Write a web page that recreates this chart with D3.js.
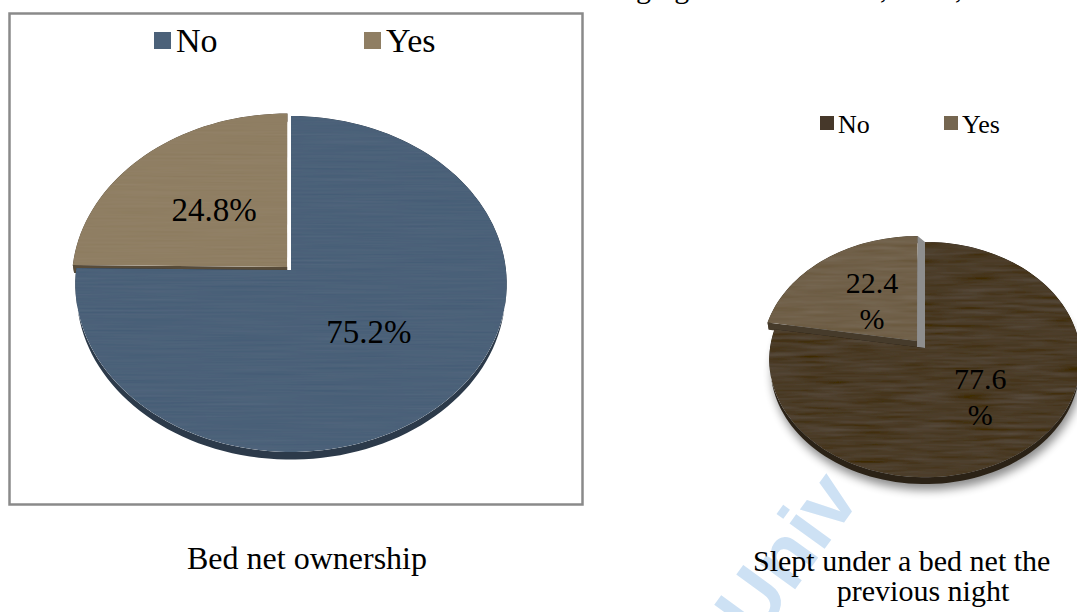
<!DOCTYPE html>
<html>
<head>
<meta charset="utf-8">
<script src="https://cdn.jsdelivr.net/npm/d3@7/dist/d3.min.js"></script>
<style>
  html, body { margin: 0; padding: 0; background: #ffffff; }
  svg { display: block; }
  text { font-family: "Liberation Serif", "Times New Roman", serif; fill: #000; }
</style>
</head>
<body>
<svg id="chart" width="1077" height="612"></svg>
<script>
// ---------------- data ----------------
const categories = ["No", "Yes"];
const ownershipValues = [75.2, 24.8];
const sleptValues = [77.6, 22.4];
const ownershipLabels = ["75.2%", "24.8%"];
const sleptLabels = [["77.6", "%"], ["22.4", "%"]];
const captionLeft = ["Bed net ownership"];
const captionRight = ["Slept under a bed net the", "previous night"];

// ---------------- styles ----------------
const leftTop = ["#4b6179", "#8f7e63"];
const leftSide = ["#2c3a4a", "#574b39"];
const rightTop = ["#4b3c28", "#706049"];
const rightSide = ["#2b2216", "#463b2b"];
const leftLegendColors = ["#4b6179", "#8f7e63"];
const rightLegendColors = ["#46382a", "#756650"];

const svg = d3.select("#chart");
const defs = svg.append("defs");

// texture filter (brushed look)
function texFilter(id, seed, amp, freq) {
  const f = defs.append("filter").attr("id", id)
    .attr("x", "0%").attr("y", "0%").attr("width", "100%").attr("height", "100%");
  f.append("feTurbulence").attr("type", "fractalNoise")
    .attr("baseFrequency", freq).attr("numOctaves", 2).attr("seed", seed).attr("result", "n");
  f.append("feColorMatrix").attr("in", "n").attr("type", "matrix")
    .attr("values", "0.33 0.33 0.33 0 0  0.33 0.33 0.33 0 0  0.33 0.33 0.33 0 0  0 0 0 0 1")
    .attr("result", "g");
  f.append("feComposite").attr("in", "SourceGraphic").attr("in2", "g").attr("operator", "arithmetic")
    .attr("k1", 0).attr("k2", 1).attr("k3", amp).attr("k4", -amp / 2).attr("result", "c");
  f.append("feComposite").attr("in", "c").attr("in2", "SourceGraphic").attr("operator", "in");
}
texFilter("texL", 4, 0.05, "0.01 0.5");
texFilter("texR", 7, 0.10, "0.02 0.25");

const blur = defs.append("filter").attr("id", "shadow")
  .attr("x", "-20%").attr("y", "-20%").attr("width", "140%").attr("height", "140%");
blur.append("feGaussianBlur").attr("stdDeviation", 5);

// ---------------- cut-off text at the top ----------------
svg.append("text").attr("x", 636).attr("y", -2).style("font-size", "30px").text("ging");
svg.append("text").attr("x", 820).attr("y", -2).style("font-size", "30px").text("2013, 2014,");

// ---------------- left frame ----------------
svg.append("rect").attr("x", 9.5).attr("y", 13.5).attr("width", 573).attr("height", 491)
  .attr("fill", "none").attr("stroke", "#8a8a8a").attr("stroke-width", 2.5);

// ---------------- watermark ----------------
svg.append("text").attr("transform", "translate(757,642) rotate(-54)")
  .style("font-family", "'Liberation Sans', Arial, sans-serif").style("font-weight", "bold")
  .style("font-size", "82px").style("fill", "#cde1f4").text("Univ");

// ---------------- 3D pie helper ----------------
function makeProj(cfg) {
  const sa = Math.sin(cfg.alpha), ca = Math.cos(cfg.alpha);
  return function (theta, r, depth, ex, ez) {
    const X = r * Math.sin(theta) + ex;
    const Z = -r * Math.cos(theta) + ez;
    const Y = -depth;
    const den = 1 - cfg.p * (Y * sa + Z * ca);
    return [cfg.cx + cfg.k * X / den, cfg.cy + cfg.k * (Z * sa - Y * ca) / den];
  };
}

const line = d3.line();

function drawPie(g, values, cfg, tops, sides, labels, labelFont, filterId) {
  const proj = makeProj(cfg);
  const arcs = d3.pie().sort(null).startAngle(0).endAngle(2 * Math.PI)(values);
  const N = 160;
  function rim(a0, a1, depth, ex, ez) {
    const n = Math.max(2, Math.ceil(N * (a1 - a0) / (2 * Math.PI)));
    return d3.range(n + 1).map(i => proj(a0 + (a1 - a0) * i / n, 1, depth, ex, ez));
  }
  arcs.forEach((a, i) => {
    const mid = (a.startAngle + a.endAngle) / 2;
    const e = cfg.explode[i];
    a.ex = e * Math.sin(mid);
    a.ez = -e * Math.cos(mid);
    a.mid = mid;
    a.idx = i;
  });

  if (cfg.shadow) {
    const pts = rim(0, 2 * Math.PI, cfg.h, 0, 0);
    g.append("path").attr("d", line(pts) + "Z")
      .attr("transform", "translate(2,6)")
      .attr("fill", "#000").attr("opacity", 0.45).attr("filter", "url(#shadow)");
  }

  const order = arcs.slice().sort((a, b) => cfg.explode[b.idx] - cfg.explode[a.idx]);
  order.forEach(a => {
    const i = a.idx, ex = a.ex, ez = a.ez, h = cfg.h;
    const sg = g.append("g");
    const topRim = rim(a.startAngle, a.endAngle, 0, ex, ez);
    const botRim = rim(a.startAngle, a.endAngle, h, ex, ez).reverse();
    sg.append("path").attr("d", line(topRim.concat(botRim)) + "Z").attr("fill", sides[i]);
    [a.startAngle, a.endAngle].forEach(t => {
      const q = [proj(0, 0, 0, ex, ez), proj(t, 1, 0, ex, ez), proj(t, 1, h, ex, ez), proj(0, 0, h, ex, ez)];
      sg.append("path").attr("d", line(q) + "Z").attr("fill", sides[i]);
    });
    const topPts = [proj(0, 0, 0, ex, ez)].concat(topRim);
    sg.append("path").attr("d", line(topPts) + "Z").attr("fill", tops[i])
      .attr("filter", "url(#" + filterId + ")");

    if (cfg.gapFace && cfg.explode[i] > 0) {
      const q = [proj(2 * Math.PI, 1, 0, ex, ez), proj(0, 1, 0, 0, 0), proj(0, 0, 0, 0, 0), proj(0, 0, h, ex, ez)];
      g.append("path").attr("d", line(q) + "Z").attr("fill", cfg.gapFace);
    }
  });

  arcs.forEach(a => {
    const p = proj(a.mid, cfg.labelR[a.idx], 0, a.ex, a.ez);
    const lab = labels[a.idx];
    if (Array.isArray(lab)) {
      lab.forEach((s, j) => {
        g.append("text").attr("x", p[0]).attr("y", p[1] - 8 + j * 36)
          .attr("text-anchor", "middle").style("font-size", labelFont + "px").text(s);
      });
    } else {
      g.append("text").attr("x", p[0]).attr("y", p[1] + labelFont * 0.36)
        .attr("text-anchor", "middle").style("font-size", labelFont + "px").text(lab);
    }
  });
}

// left pie
drawPie(svg.append("g"), ownershipValues,
  { cx: 291, cy: 270, k: 215, alpha: Math.asin(0.776), p: 0.132, h: 0.06,
    explode: [0, 0.025], labelR: [0.5, 0.5], shadow: false, gapFace: null },
  leftTop, leftSide, ownershipLabels, 33, "texL");

// right pie
drawPie(svg.append("g"), sleptValues,
  { cx: 925, cy: 348, k: 155, alpha: Math.asin(0.752), p: 0.15, h: 0.07,
    explode: [0, 0.08], labelR: [0.53, 0.47], shadow: true, gapFace: "#8e8e8e" },
  rightTop, rightSide, sleptLabels, 30, "texR");

// ---------------- legends ----------------
function legend(x0, step, y, size, font, colors, gap) {
  categories.forEach((c, i) => {
    const x = x0 + i * step;
    svg.append("rect").attr("x", x).attr("y", y).attr("width", size).attr("height", size).attr("fill", colors[i]);
    svg.append("text").attr("x", x + size + gap).attr("y", y + size + font * 0.1)
      .style("font-size", font + "px").text(c);
  });
}
legend(154, 210, 32, 17, 34, leftLegendColors, 5);
legend(820, 124, 116, 14, 26, rightLegendColors, 4);

// ---------------- captions ----------------
svg.append("text").attr("x", 307).attr("y", 569).attr("text-anchor", "middle")
  .style("font-size", "32px").text(captionLeft[0]);
svg.append("text").attr("x", 753).attr("y", 571).style("font-size", "30px").text(captionRight[0]);
svg.append("text").attr("x", 923).attr("y", 601).attr("text-anchor", "middle")
  .style("font-size", "30px").text(captionRight[1]);
</script>
</body>
</html>
